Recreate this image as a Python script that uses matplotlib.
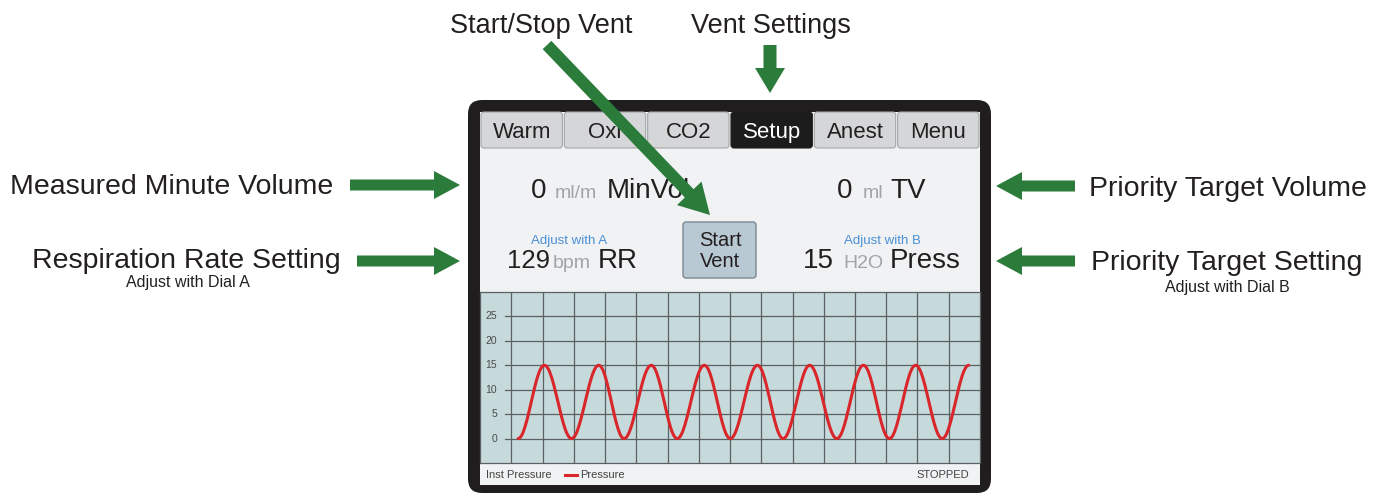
import numpy as np
import matplotlib
matplotlib.use("Agg")
import matplotlib.pyplot as plt
from matplotlib.patches import FancyBboxPatch, Rectangle, FancyArrow

plt.rcParams['font.family'] = ['Liberation Sans', 'DejaVu Sans']

# ---- data ----
tabs = ["Warm", "Oxi", "CO2", "Setup", "Anest", "Menu"]
active_tab = "Setup"

min_vol = 0          # ml/m
tidal_vol = 0        # ml
resp_rate = 129      # bpm
target_press = 15    # H2O
status = "STOPPED"

# pressure trace: turning points (grid columns, cmH2O)
press_t = [1.22, 2.06, 2.93, 3.80, 4.61, 5.48, 6.31, 7.18, 8.01,
           8.88, 9.70, 10.55, 11.42, 12.27, 13.10, 13.94, 14.79, 15.64]
press_v = [0, 15, 0, 15, 0, 15, 0, 15, 0,
           15, 0, 15, 0, 15, 0, 15, 0, 15]
y_ticks = [0, 5, 10, 15, 20, 25]

GREEN = '#2b7b3b'
INK = '#231f20'

fig = plt.figure(figsize=(13.83, 4.93), dpi=100)
fig.patch.set_facecolor('white')

# background layer in pixel coords
ax0 = fig.add_axes([0, 0, 1, 1])
ax0.set_xlim(0, 1383)
ax0.set_ylim(493, 0)
ax0.axis('off')

# device frame + panel
ax0.add_patch(FancyBboxPatch((468, 100), 523, 393, boxstyle="round,pad=0,rounding_size=14",
                             fc='#1f1d1e', ec='none'))
ax0.add_patch(Rectangle((480, 112), 500, 373, fc='#f1f2f3', ec='none'))

# tabs
tab_w = 500 / len(tabs)
for i, name in enumerate(tabs):
    x0 = 480 + i * tab_w
    active = name == active_tab
    ax0.add_patch(FancyBboxPatch((x0 + 1, 112), tab_w - 2, 36,
                                 boxstyle="round,pad=0,rounding_size=3",
                                 fc='#1c1c1c' if active else '#d4d6d8',
                                 ec='#1c1c1c' if active else '#a3a5a7', lw=0.8))
    ax0.text(x0 + tab_w / 2, 138, name, ha='center', va='baseline', fontsize=16,
             color='white' if active else INK)

# readouts
def readout(x_num, x_unit, x_lbl, y, num, unit, lbl, num_size=20):
    ax0.text(x_num, y, str(num), fontsize=num_size, color=INK, va='baseline')
    ax0.text(x_unit, y, unit, fontsize=14, color='#a2a4a6', va='baseline')
    ax0.text(x_lbl, y, lbl, fontsize=20, color=INK, va='baseline')

readout(531, 555, 607, 198, min_vol, "ml/m", "MinVol")
readout(837, 863, 890, 198, tidal_vol, "ml", "TV")
readout(507, 553, 598, 268, resp_rate, "bpm", "RR", num_size=18.5)
readout(803, 843, 890, 268, target_press, "H2O", "Press")

ax0.text(569, 244, "Adjust with A", ha='center', va='baseline', fontsize=9.5, color='#4a8fd6')
ax0.text(882, 244, "Adjust with B", ha='center', va='baseline', fontsize=9.5, color='#4a8fd6')

# start button
ax0.add_patch(FancyBboxPatch((683, 222), 73, 56, boxstyle="round,pad=0,rounding_size=3",
                             fc='#b9c9d3', ec='#7b8890', lw=1))
ax0.text(720, 251, "Start\nVent", ha='center', va='center', fontsize=14.5,
         color=INK, linespacing=1.15)

# legend / status bar
ax0.text(486, 475, "Inst Pressure", fontsize=8, color='#444444', va='center')
ax0.plot([565, 577], [475, 475], color='#d8262b', lw=2.2)
ax0.text(580, 475, "Pressure", fontsize=8, color='#444444', va='center')
ax0.text(969, 475, status, fontsize=8, color='#444444', va='center', ha='right')

# ---- pressure chart ----
ax = fig.add_axes([480 / 1383, (493 - 463) / 493, 500 / 1383, 171 / 493])
ax.set_facecolor('#c6dadc')
ax.set_xlim(0, 16)
ax.set_ylim(-5, 30)
for c in range(1, 16):
    ax.axvline(c, color='#5b6062', lw=0.9)
for v in y_ticks:
    ax.axhline(v, xmin=0.049, xmax=1, color='#5b6062', lw=0.9)
    ax.text(0.55, v, str(v), fontsize=7.5, color='#4a4a4a', ha='right', va='center')
ax.set_xticks([])
ax.set_yticks([])
for s in ax.spines.values():
    s.set_color('#5b6062')
    s.set_linewidth(0.9)

# trace drawn through the turning points with a smooth half-wave between them
xs, ys = [], []
for i in range(len(press_t) - 1):
    u = np.linspace(0, 1, 30)
    xs.extend(press_t[i] + (press_t[i + 1] - press_t[i]) * u)
    ys.extend(press_v[i] + (press_v[i + 1] - press_v[i]) * (1 - np.cos(np.pi * u)) / 2)
ax.plot(xs, ys, color='#d8262b', lw=2.2, solid_capstyle='round')

# ---- callouts on top ----
ax1 = fig.add_axes([0, 0, 1, 1])
ax1.set_xlim(0, 1383)
ax1.set_ylim(493, 0)
ax1.axis('off')
ax1.patch.set_alpha(0)

def arrow(x0, y0, x1, y1, w=11, hw=28, hl=26):
    ax1.add_patch(FancyArrow(x0, y0, x1 - x0, y1 - y0, width=w, head_width=hw,
                             head_length=hl, length_includes_head=True,
                             fc=GREEN, ec='none'))

ax1.text(541, 33, "Start/Stop Vent", ha='center', va='baseline', fontsize=19.5, color=INK)
ax1.text(771, 33, "Vent Settings", ha='center', va='baseline', fontsize=19.5, color=INK)
arrow(547, 45, 710, 215, w=12, hw=34, hl=30)
arrow(770, 45, 770, 93, w=13, hw=30, hl=25)

ax1.text(10, 194, "Measured Minute Volume", va='baseline', fontsize=20.5, color=INK)
ax1.text(32, 268, "Respiration Rate Setting", va='baseline', fontsize=20.5, color=INK)
ax1.text(188, 287, "Adjust with Dial A", ha='center', va='baseline', fontsize=11.5, color=INK)
arrow(350, 185, 460, 185)
arrow(357, 261, 460, 261)

ax1.text(1089, 196, "Priority Target Volume", va='baseline', fontsize=20.5, color=INK)
ax1.text(1091, 270, "Priority Target Setting", va='baseline', fontsize=20.5, color=INK)
ax1.text(1227, 292, "Adjust with Dial B", ha='center', va='baseline', fontsize=11.5, color=INK)
arrow(1075, 186, 996, 186)
arrow(1075, 261, 996, 261)

fig.savefig("out.png", dpi=100)
